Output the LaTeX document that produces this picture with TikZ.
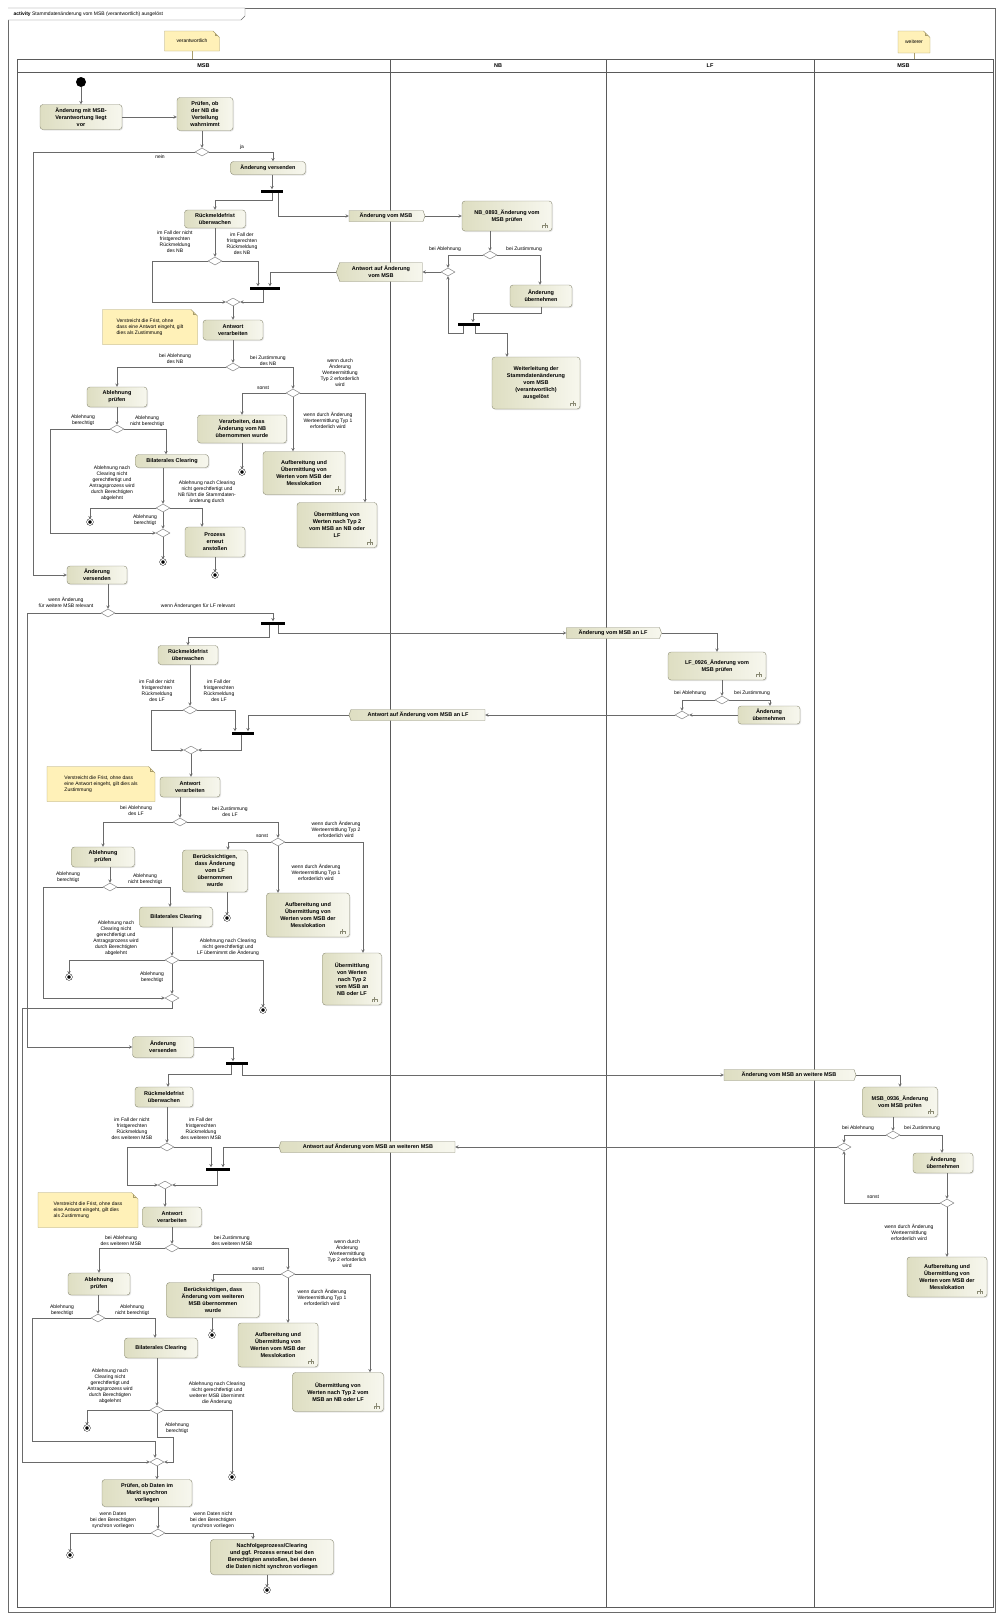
\documentclass[tikz,border=0pt]{standalone}
\usepackage{fontspec}
\setmainfont{Liberation Sans}
\usetikzlibrary{calc}
\usetikzlibrary{positioning}
\usetikzlibrary{shapes.geometric}
\usetikzlibrary{shapes.symbols}
\usetikzlibrary{shapes.misc}
\usetikzlibrary{shadows}
\tikzset{>=stealth}
\definecolor{actdark}{HTML}{DEDEC2}
\definecolor{actlight}{HTML}{F7F7EE}
\definecolor{actline}{HTML}{8A8A74}
\definecolor{notefill}{HTML}{FFF1B8}
\definecolor{noteline}{HTML}{A89C6A}
\definecolor{flowgray}{HTML}{6A6A6A}
\definecolor{lanegray}{HTML}{5A5A5A}
\newcommand{\actfont}{\fontsize{5.5}{7}\selectfont\bfseries}
\newcommand{\lblfont}{\fontsize{5}{6}\selectfont}
\tikzset{
  act/.style 2 args={rectangle, rounded corners=3pt, draw=actline,
    left color=actdark, right color=actlight,
    drop shadow={opacity=.2, shadow xshift=1pt, shadow yshift=-1pt},
    align=center, font=\actfont, inner sep=1pt, minimum width=#1, minimum height=#2},
  callact/.style 2 args={act={#1}{#2}, path picture={
    \draw[sharp corners, line width=.45pt]
      ([xshift=-9.5pt,yshift=3pt]path picture bounding box.south east)
        -- ++(0,2.5pt) -- ++(5pt,0) -- ++(0,-2.5pt)
      ([xshift=-7pt,yshift=3pt]path picture bounding box.south east) -- ++(0,5.5pt);}},
  sig/.style 2 args={signal, signal to=#1, signal pointer angle=140, draw=actline,
    left color=actdark, right color=actlight, align=center, font=\actfont,
    inner sep=1.5pt, minimum width=#2, minimum height=11pt},
  dec/.style={diamond, draw=flowgray, fill=white, minimum width=14pt,
    minimum height=8pt, inner sep=0pt},
  bar/.style={rectangle, fill=black, minimum width=22pt, minimum height=3pt, inner sep=0pt},
  startn/.style={circle, fill=black, minimum size=10pt, inner sep=0pt},
  fin/.style={circle, draw=black, fill=black, minimum size=5pt, inner sep=0pt,
    double=white, double distance=1.2pt},
  note/.style={chamfered rectangle, chamfered rectangle corners=north east,
    chamfered rectangle xsep=3pt, draw=noteline, fill=notefill, align=left,
    font=\lblfont, inner sep=2pt, path picture={
    \draw[noteline] ([xshift=-4.5pt]path picture bounding box.north east)
      |- ([yshift=-4.5pt]path picture bounding box.north east);}},
  lbl/.style={font=\lblfont, align=center, inner sep=0pt},
  flow/.style={->, draw=flowgray, line width=.5pt},
  lane/.style={draw=lanegray, line width=.8pt},
  lanehd/.style={font=\actfont, minimum height=13pt, inner sep=0pt},
}

\begin{document}
\begin{tikzpicture}[x=1pt,y=-1pt]
\useasboundingbox (0,0) rectangle (997,1615);
% frame and partitions
\draw[flowgray] (8,8) rectangle (995,1612);
\draw[flowgray,fill=white] (8,8) -- (245,8) -- (245,16) -- (241,20) -- (8,20);
\node[anchor=west,font=\lblfont] (ttl) at (10,14)
  {\textbf{activity} Stammdatenänderung vom MSB (verantwortlich) ausgelöst};
\draw[lane] (17,59) rectangle (993,1607);
\draw[lane] (17,72) -- (993,72);
\foreach \x in {390,606,814}
  \draw[lane] (\x,59) -- (\x,1607);
\node[lanehd] (hMSB) at (203.5,65.5) {MSB};
\node[lanehd] (hNB) at (498,65.5) {NB};
\node[lanehd] (hLF) at (710,65.5) {LF};
\node[lanehd] (hMSBw) at (903.5,65.5) {MSB};
\node[note, minimum width=55pt, minimum height=20pt] (nVer) at (192,41) {verantwortlich};
\node[note, minimum width=32pt, minimum height=22pt] (nWei) at (914,42) {weiterer};
\draw[noteline] (nVer.south) -- (nVer.south|-hMSB.north);
\draw[noteline] (nWei.south) -- (nWei.south|-hMSBw.north);

% ---- NB
\node[startn] (st) at (81,82) {};
\node[act={82pt}{25pt}] (aVor) at (81,117) {Änderung mit MSB-\\Verantwortung liegt\\vor};
\node[act={56pt}{33pt}] (aPrNB) at (205,114) {Prüfen, ob\\der NB die\\Verteilung\\wahrnimmt};
\node[dec] (dNB) at (202,152) {};
\node[lbl] (lNein) at (160,157) {nein};
\node[lbl] (lJa) at (242,147) {ja};
\node[act={75pt}{13pt}] (aVersNB) at (268,168) {Änderung versenden};
\node[bar] (fNB) at (272,191) {};
\node[act={61pt}{18pt}] (aFrNB) at (215,219) {Rückmeldefrist\\überwachen};
\node[sig={east}{76pt}] (sNB) at (386,216) {Änderung vom MSB};
\node[callact={90pt}{30pt}] (bPrNB) at (507,216) {NB\_0893\_Änderung vom\\MSB prüfen};
\node[dec] (dNBa) at (490,255) {};
\node[lbl] (lAblNB) at (445,249) {bei Ablehnung};
\node[lbl] (lZusNB) at (524,249) {bei Zustimmung};
\node[dec] (mNBa) at (448,272) {};
\node[act={62pt}{22pt}] (bUeNB) at (541,296) {Änderung\\übernehmen};
\node[bar] (fNBa) at (469,324) {};
\node[callact={88pt}{52pt}] (bWeit) at (536,383)
  {Weiterleitung der\\Stammdatenänderung\\vom MSB\\(verantwortlich)\\ausgelöst};
\node[sig={west}{86pt}, minimum height=19pt] (sAwNB) at (381,272) {Antwort auf Änderung\\vom MSB};
\node[dec] (dFrNB) at (215,261) {};
\node[lbl] (lFrNB1) at (175,242) {im Fall der nicht\\fristgerechten\\Rückmeldung\\des NB};
\node[lbl] (lFrNB2) at (242,244) {im Fall der\\fristgerechten\\Rückmeldung\\des NB};
\node[bar, minimum width=30pt] (jNB) at (265,288) {};
\node[dec] (mFrNB) at (233,302) {};
\node[act={60pt}{20pt}] (aAwNB) at (233,330) {Antwort\\verarbeiten};
\node[note, minimum width=95pt, minimum height=35pt] (nNB) at (150,327)
  {Verstreicht die Frist, ohne\\dass eine Antwort eingeht, gilt\\dies als Zustimmung};
\node[dec] (dAwNB) at (233,367) {};
\node[lbl] (lAbNB) at (175,359) {bei Ablehnung\\des NB};
\node[lbl] (lZuNB) at (268,361) {bei Zustimmung\\des NB};
\node[act={60pt}{20pt}] (aAbPrNB) at (117,397) {Ablehnung\\prüfen};
\node[dec] (dSoNB) at (293,393) {};
\node[lbl] (lSoNB) at (263,388) {sonst};
\node[lbl] (lTyp2NB) at (340,373) {wenn durch\\Änderung\\Werteermittlung\\Typ 2 erforderlich\\wird};
\node[act={89pt}{28pt}] (aVerNB) at (242,429) {Verarbeiten, dass\\Änderung vom NB\\übernommen wurde};
\node[fin] (eVerNB) at (242,472) {};
\node[callact={82pt}{43pt}] (aAufNB) at (304,473) {Aufbereitung und\\Übermittlung von\\Werten vom MSB der\\Messlokation};
\node[lbl] (lTyp1NB) at (328,420) {wenn durch Änderung\\Werteermittlung Typ 1\\erforderlich wird};
\node[callact={80pt}{45pt}] (aUebNB) at (337,525) {Übermittlung von\\Werten nach Typ 2\\vom MSB an NB oder\\LF};
\node[dec] (dAbNB) at (117,429) {};
\node[lbl] (lAbB1) at (83,420) {Ablehnung\\berechtigt};
\node[lbl] (lAbN1) at (147,421) {Ablehnung\\nicht berechtigt};
\node[act={73pt}{13pt}] (aClNB) at (172,461) {Bilaterales Clearing};
\node[dec] (dClNB) at (163,508) {};
\node[lbl] (lClNB1) at (112,483) {Ablehnung nach\\Clearing nicht\\gerechtfertigt und\\Antragsprozess wird\\durch Berechtigten\\abgelehnt};
\node[lbl] (lClNB2) at (207,492) {Ablehnung nach Clearing\\nicht gerechtfertigt und\\NB führt die Stammdaten-\\änderung durch};
\node[fin] (eClNB) at (90,522) {};
\node[act={60pt}{30pt}] (aErNB) at (215,542) {Prozess\\erneut\\anstoßen};
\node[fin] (eErNB) at (215,575) {};
\node[dec] (mAbNB) at (163,533) {};
\node[lbl] (lAbB2) at (145,520) {Ablehnung\\berechtigt};
\node[fin] (eAbNB) at (163,562) {};

\draw[flow] (st) -- (aVor);
\draw[flow] (aVor.east) -- (aVor.east-|aPrNB.west);
\draw[flow] (dNB|-aPrNB.south) -- (dNB);
\draw[flow] (dNB.east) -| ([xshift=5pt]aVersNB.north);
\draw[flow] (fNB|-aVersNB.south) -- (fNB);
\draw[flow] (fNB.south) -- ++(0,8) -| (aFrNB.north);
\draw[flow] ([xshift=6pt]fNB.south) |- (sNB.west);
\draw[flow] (sNB.east) -- (bPrNB.west);
\draw[flow] (dNBa|-bPrNB.south) -- (dNBa);
\draw[flow] (dNBa.west) -| (mNBa.north);
\draw[flow] (dNBa.east) -| ([xshift=-1pt]bUeNB.north);
\draw[flow] (bUeNB.south) -- ++(0,6) -| ([xshift=4pt]fNBa.north);
\draw[flow] ([xshift=-6pt]fNBa.south) -- ++(0,8) -| (mNBa.south);
\draw[flow] ([xshift=6pt]fNBa.south) -- ++(0,8) -| ([xshift=-29pt]bWeit.north);
\draw[flow] (mNBa.west) -- (sAwNB.east);
\draw[flow] (sAwNB.west) -| ([xshift=5pt]jNB.north);
\draw[flow] (aFrNB) -- (dFrNB);
\draw[flow] (dFrNB.west) -- ++(-56,0) |- (mFrNB.west);
\draw[flow] (dFrNB.east) -| ([xshift=-7pt]jNB.north);
\draw[flow] ([xshift=-2pt]jNB.south) |- (mFrNB.east);
\draw[flow] (mFrNB) -- (aAwNB);
\draw[flow] (aAwNB) -- (dAwNB);
\draw[flow] (dAwNB.west) -| (aAbPrNB.north);
\draw[flow] (dAwNB.east) -| (dSoNB.north);
\draw[flow] (dSoNB.west) -| (aVerNB.north);
\draw[flow] (aVerNB) -- (eVerNB);
\draw[flow] (dSoNB) -- (dSoNB|-aAufNB.north);
\draw[flow] (dSoNB.east) -| ([xshift=28pt]aUebNB.north);
\draw[flow] (aAbPrNB) -- (dAbNB);
\draw[flow] (dAbNB.west) -- ++(-60,0) |- (mAbNB.west);
\draw[flow] (dAbNB.east) -| ([xshift=-6pt]aClNB.north);
\draw[flow] (dClNB|-aClNB.south) -- (dClNB);
\draw[flow] (dClNB.west) -| (eClNB.north);
\draw[flow] (dClNB.east) -| ([xshift=-13pt]aErNB.north);
\draw[flow] (aErNB) -- (eErNB);
\draw[flow] (dClNB) -- (mAbNB);
\draw[flow] (mAbNB) -- (eAbNB);

% ---- LF
\node[act={60pt}{18pt}] (aVersLF) at (97,575) {Änderung\\versenden};
\node[dec] (dLF) at (108,613) {};
\node[lbl] (lRelMSB) at (66,602) {wenn Änderung\\für weitere MSB relevant};
\node[lbl] (lRelLF) at (198,606) {wenn Änderungen für LF relevant};
\node[bar, minimum width=24pt] (fLF) at (273,623) {};
\node[act={60pt}{19pt}] (aFrLF) at (188,655) {Rückmeldefrist\\überwachen};
\node[sig={east}{95pt}] (sLF) at (613,633) {Änderung vom MSB an LF};
\node[callact={98pt}{28pt}] (bPrLF) at (717,666) {LF\_0926\_Änderung vom\\MSB prüfen};
\node[dec] (dLFa) at (722,700) {};
\node[lbl] (lAblLF) at (690,693) {bei Ablehnung};
\node[lbl] (lZusLF) at (752,693) {bei Zustimmung};
\node[dec] (mLFa) at (682,715) {};
\node[act={62pt}{18pt}] (bUeLF) at (769,715) {Änderung\\übernehmen};
\node[sig={west}{136pt}] (sAwLF) at (418,715) {Antwort auf Änderung vom MSB an LF};
\node[dec] (dFrLF) at (190,710) {};
\node[lbl] (lFrLF1) at (157,691) {im Fall der nicht\\fristgerechten\\Rückmeldung\\des LF};
\node[lbl] (lFrLF2) at (219,691) {im Fall der\\fristgerechten\\Rückmeldung\\des LF};
\node[bar] (jLF) at (243,733) {};
\node[dec] (mFrLF) at (191,750) {};
\node[act={60pt}{20pt}] (aAwLF) at (190,787) {Antwort\\verarbeiten};
\node[note, minimum width=108pt, minimum height=35pt] (nLF) at (101,784)
  {Verstreicht die Frist, ohne dass\\eine Antwort eingeht, gilt dies als\\Zustimmung};
\node[dec] (dAwLF) at (180,822) {};
\node[lbl] (lAbLF) at (136,811) {bei Ablehnung\\des LF};
\node[lbl] (lZuLF) at (230,812) {bei Zustimmung\\des LF};
\node[act={63pt}{20pt}] (aAbPrLF) at (103,857) {Ablehnung\\prüfen};
\node[dec] (dSoLF) at (278,842) {};
\node[lbl] (lSoLF) at (262,836) {sonst};
\node[lbl] (lTyp2LF) at (336,829) {wenn durch Änderung\\Werteermittlung Typ 2\\erforderlich wird};
\node[act={65pt}{42pt}] (aBerLF) at (215,871) {Berücksichtigen,\\dass Änderung\\vom LF\\übernommen\\wurde};
\node[fin] (eBerLF) at (227,918) {};
\node[callact={83pt}{44pt}] (aAufLF) at (308,915) {Aufbereitung und\\Übermittlung von\\Werten vom MSB der\\Messlokation};
\node[lbl] (lTyp1LF) at (316,872) {wenn durch Änderung\\Werteermittlung Typ 1\\erforderlich wird};
\node[callact={59pt}{52pt}] (aUebLF) at (352,979) {Übermittlung\\von Werten\\nach Typ 2\\vom MSB an\\NB oder LF};
\node[dec] (dAbLF) at (110,887) {};
\node[lbl] (lAbB3) at (68,877) {Ablehnung\\berechtigt};
\node[lbl] (lAbN3) at (145,879) {Ablehnung\\nicht berechtigt};
\node[act={73pt}{20pt}] (aClLF) at (176,917) {Bilaterales Clearing};
\node[dec] (dClLF) at (172,960) {};
\node[lbl] (lClLF1) at (116,938) {Ablehnung nach\\Clearing nicht\\gerechtfertigt und\\Antragsprozess wird\\durch Berechtigten\\abgelehnt};
\node[lbl] (lClLF2) at (228,947) {Ablehnung nach Clearing\\nicht gerechtfertigt und\\LF übernimmt die Änderung};
\node[fin] (eClLF1) at (69,977) {};
\node[fin] (eClLF2) at (263,1010) {};
\node[dec] (mAbLF) at (172,998) {};
\node[lbl] (lAbB4) at (152,977) {Ablehnung\\berechtigt};

\draw[flow] (dNB.west) -- ++(-162,0) |- (aVersLF.west);
\draw[flow] (dLF|-aVersLF.south) -- (dLF);
\draw[flow] (dLF.east) -| (fLF.north);
\draw[flow] ([xshift=-4pt]fLF.south) -- ++(0,13) -| (aFrLF.north);
\draw[flow] ([xshift=5pt]fLF.south) |- (sLF.west);
\draw[flow] (sLF.east) -| (bPrLF.north);
\draw[flow] (dLFa|-bPrLF.south) -- (dLFa);
\draw[flow] (dLFa.west) -| (mLFa.north);
\draw[flow] (dLFa.east) -| ([xshift=1pt]bUeLF.north);
\draw[flow] (bUeLF.west) -- (mLFa.east);
\draw[flow] (mLFa.west) -- (sAwLF.east);
\draw[flow] (sAwLF.west) -| ([xshift=5pt]jLF.north);
\draw[flow] (dFrLF|-aFrLF.south) -- (dFrLF);
\draw[flow] (dFrLF.west) -- ++(-32,0) |- (mFrLF.west);
\draw[flow] (dFrLF.east) -| ([xshift=-8pt]jLF.north);
\draw[flow] ([xshift=-2pt]jLF.south) |- (mFrLF.east);
\draw[flow] (mFrLF) -- (mFrLF|-aAwLF.north);
\draw[flow] (dAwLF|-aAwLF.south) -- (dAwLF);
\draw[flow] (dAwLF.west) -| (aAbPrLF.north);
\draw[flow] (dAwLF.east) -| (dSoLF.north);
\draw[flow] (dSoLF.west) -| ([xshift=13pt]aBerLF.north);
\draw[flow] (eBerLF|-aBerLF.south) -- (eBerLF);
\draw[flow] (dSoLF) -- (dSoLF|-aAufLF.north);
\draw[flow] (dSoLF.east) -| ([xshift=11pt]aUebLF.north);
\draw[flow] (dAbLF|-aAbPrLF.south) -- (dAbLF);
\draw[flow] (dAbLF.west) -- ++(-60,0) |- (mAbLF.west);
\draw[flow] (dAbLF.east) -| ([xshift=-6pt]aClLF.north);
\draw[flow] (dClLF|-aClLF.south) -- (dClLF);
\draw[flow] (dClLF.west) -| (eClLF1.north);
\draw[flow] (dClLF.east) -| (eClLF2.north);
\draw[flow] (dClLF) -- (mAbLF);

% ---- weiterer MSB
\node[act={61pt}{21pt}] (aVersW) at (163,1047) {Änderung\\versenden};
\node[bar] (fW) at (237,1063) {};
\node[act={58pt}{20pt}] (aFrW) at (164,1097) {Rückmeldefrist\\überwachen};
\node[sig={east}{132pt}] (sW) at (789,1075) {Änderung vom MSB an weitere MSB};
\node[callact={75pt}{30pt}] (bPrW) at (900,1102) {MSB\_0936\_Änderung\\vom MSB prüfen};
\node[dec] (dWa) at (893,1135) {};
\node[lbl] (lAblW) at (858,1128) {bei Ablehnung};
\node[lbl] (lZusW) at (922,1128) {bei Zustimmung};
\node[dec] (mWa) at (844,1147) {};
\node[act={60pt}{20pt}] (bUeW) at (943,1163) {Änderung\\übernehmen};
\node[dec] (dWb) at (947,1203) {};
\node[lbl] (lSoWb) at (873,1197) {sonst};
\node[lbl] (lTypWb) at (909,1232) {wenn durch Änderung\\Werteermittlung\\erforderlich wird};
\node[callact={80pt}{40pt}] (bAufW) at (947,1277) {Aufbereitung und\\Übermittlung von\\Werten vom MSB der\\Messlokation};
\node[sig={west}{176pt}] (sAwW) at (368,1147) {Antwort auf Änderung vom MSB an weiteren MSB};
\node[dec] (dFrW) at (167,1147) {};
\node[lbl] (lFrW1) at (132,1129) {im Fall der nicht\\fristgerechten\\Rückmeldung\\des weiteren MSB};
\node[lbl] (lFrW2) at (201,1129) {im Fall der\\fristgerechten\\Rückmeldung\\des weiteren MSB};
\node[bar, minimum width=24pt] (jW) at (218,1169) {};
\node[dec] (mFrW) at (165,1185) {};
\node[act={59pt}{20pt}] (aAwW) at (172,1217) {Antwort\\verarbeiten};
\node[note, minimum width=100pt, minimum height=35pt] (nW) at (88,1210)
  {Verstreicht die Frist, ohne dass\\eine Antwort eingeht, gilt dies\\als Zustimmung};
\node[dec] (dAwW) at (172,1248) {};
\node[lbl] (lAbW) at (121,1241) {bei Ablehnung\\des weiteren MSB};
\node[lbl] (lZuW) at (232,1241) {bei Zustimmung\\des weiteren MSB};
\node[act={62pt}{22pt}] (aAbPrW) at (99,1284) {Ablehnung\\prüfen};
\node[dec] (dSoW) at (288,1274) {};
\node[lbl] (lSoW) at (258,1269) {sonst};
\node[lbl] (lTyp2W) at (347,1254) {wenn durch\\Änderung\\Werteermittlung\\Typ 2 erforderlich\\wird};
\node[act={93pt}{35pt}] (aBerW) at (213,1300) {Berücksichtigen, dass\\Änderung vom weiteren\\MSB übernommen\\wurde};
\node[fin] (eBerW) at (212,1335) {};
\node[callact={80pt}{44pt}] (aAufW) at (278,1345) {Aufbereitung und\\Übermittlung von\\Werten vom MSB der\\Messlokation};
\node[lbl] (lTyp1W) at (322,1297) {wenn durch Änderung\\Werteermittlung Typ 1\\erforderlich wird};
\node[callact={91pt}{39pt}] (aUebW) at (338,1392) {Übermittlung von\\Werten nach Typ 2 vom\\MSB an NB oder LF};
\node[dec] (dAbW) at (98,1318) {};
\node[lbl] (lAbB5) at (62,1310) {Ablehnung\\berechtigt};
\node[lbl] (lAbN5) at (132,1310) {Ablehnung\\nicht berechtigt};
\node[act={73pt}{20pt}] (aClW) at (161,1348) {Bilaterales Clearing};
\node[dec] (dClW) at (157,1410) {};
\node[lbl] (lClW1) at (110,1386) {Ablehnung nach\\Clearing nicht\\gerechtfertigt und\\Antragsprozess wird\\durch Berechtigten\\abgelehnt};
\node[lbl] (lClW2) at (217,1393) {Ablehnung nach Clearing\\nicht gerechtfertigt und\\weiterer MSB übernimmt\\die Änderung};
\node[fin] (eClW1) at (87,1428) {};
\node[fin] (eClW2) at (232,1477) {};
\node[lbl] (lAbB6) at (177,1428) {Ablehnung\\berechtigt};
\node[dec] (mEnd) at (157,1462) {};
\node[act={90pt}{27pt}] (aSyn) at (147,1493) {Prüfen, ob Daten im\\Markt synchron\\vorliegen};
\node[dec] (dSyn) at (158,1533) {};
\node[lbl] (lSyn1) at (113,1520) {wenn Daten\\bei den Berechtigten\\synchron vorliegen};
\node[lbl] (lSyn2) at (213,1520) {wenn Daten nicht\\bei den Berechtigten\\synchron vorliegen};
\node[fin] (eSyn) at (70,1555) {};
\node[act={123pt}{35pt}] (aNach) at (272,1557) {Nachfolgeprozess/Clearing\\und ggf. Prozess erneut bei den\\Berechtigten anstoßen, bei denen\\die Daten nicht synchron vorliegen};
\node[fin] (eNach) at (267,1590) {};

\draw[flow] (dLF.west) -- ++(-74,0) |- (aVersW.west);
\draw[flow] (aVersW.east) -| ([xshift=-4pt]fW.north);
\draw[flow] ([xshift=-6pt]fW.south) -- ++(0,10) -| ([xshift=4pt]aFrW.north);
\draw[flow] ([xshift=5pt]fW.south) |- (sW.west);
\draw[flow] (sW.east) -| (bPrW.north);
\draw[flow] (dWa|-bPrW.south) -- (dWa);
\draw[flow] (dWa.west) -| (mWa.north);
\draw[flow] (dWa.east) -| ([xshift=-1pt]bUeW.north);
\draw[flow] (dWb|-bUeW.south) -- (dWb);
\draw[flow] (dWb.west) -| (mWa.south);
\draw[flow] (dWb) -- (dWb|-bAufW.north);
\draw[flow] (mWa.west) -- (sAwW.east);
\draw[flow] (sAwW.west) -| ([xshift=5pt]jW.north);
\draw[flow] (dFrW|-aFrW.south) -- (dFrW);
\draw[flow] (dFrW.west) -- ++(-33,0) |- (mFrW.west);
\draw[flow] (dFrW.east) -| ([xshift=-7pt]jW.north);
\draw[flow] ([xshift=-1pt]jW.south) |- (mFrW.east);
\draw[flow] (mFrW) -- (mFrW|-aAwW.north);
\draw[flow] (dAwW|-aAwW.south) -- (dAwW);
\draw[flow] (dAwW.west) -| (aAbPrW.north);
\draw[flow] (dAwW.east) -| (dSoW.north);
\draw[flow] (dSoW.west) -| (aBerW.north);
\draw[flow] (eBerW|-aBerW.south) -- (eBerW);
\draw[flow] (dSoW) -- (dSoW|-aAufW.north);
\draw[flow] (dSoW.east) -| ([xshift=32pt]aUebW.north);
\draw[flow] (dAbW|-aAbPrW.south) -- (dAbW);
\draw[flow] (dAbW.east) -| ([xshift=-6pt]aClW.north);
\draw[flow] (dClW|-aClW.south) -- (dClW);
\draw[flow] (dClW.west) -| (eClW1.north);
\draw[flow] (dClW.east) -| (eClW2.north);
\draw[flow] (dAbW.west) -- ++(-59,0) |- ([xshift=-2pt,yshift=17pt]mEnd.north) -- ([xshift=-2pt]mEnd.north);
\draw[flow] (dClW.south) -- ++(0,23) -- ++(16,0) |- (mEnd.east);
\draw[flow] (mAbLF.south) -- ++(0,6) -| ([xshift=-128pt]mEnd.west) -- (mEnd.west);
\draw[flow] (mEnd) -- (mEnd|-aSyn.north);
\draw[flow] (dSyn|-aSyn.south) -- (dSyn);
\draw[flow] (dSyn.west) -| (eSyn.north);
\draw[flow] (dSyn.east) -| ([xshift=-19pt]aNach.north);
\draw[flow] (eNach|-aNach.south) -- (eNach);
\end{tikzpicture}
\end{document}
